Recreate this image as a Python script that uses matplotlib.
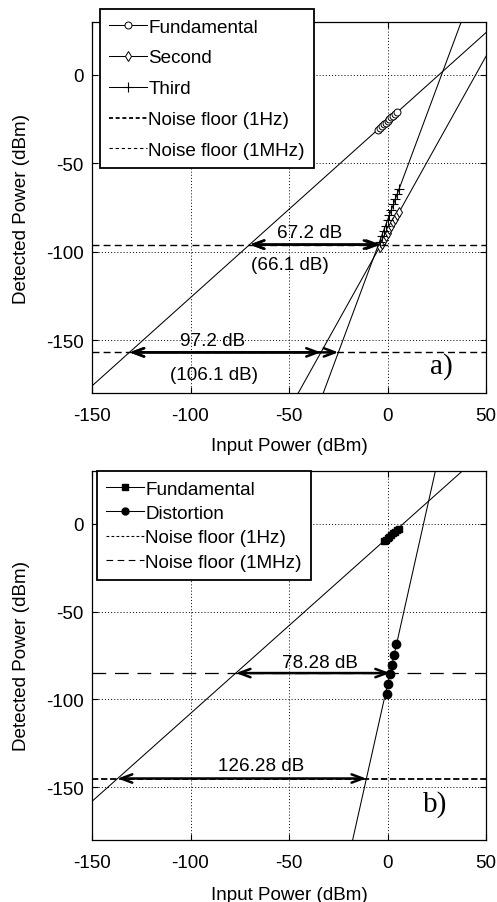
import matplotlib
matplotlib.use("Agg")
import matplotlib.pyplot as plt
from matplotlib.lines import Line2D

plt.rcParams['font.family'] = ['Liberation Sans', 'DejaVu Sans']
plt.rcParams['axes.unicode_minus'] = False
FS = 13.6

# ---------------- data: panel a ----------------
a_fund_line_x = [-150, 50]
a_fund_line_y = [-176, 24]
a_second_line_x = [-45.3, 50]
a_second_line_y = [-180, 10.6]
a_third_line_x = [-32.6, 37.4]
a_third_line_y = [-180, 30]

a_fund_pts_x = [-5, -4, -3, -2, -1, 0, 1, 2, 3, 4, 5]
a_fund_pts_y = [-31, -30, -29, -28, -27, -26, -25, -24, -23, -22, -21]
a_second_pts_x = [-4, -3, -2, -1, 0, 1, 2, 3, 4, 5, 6]
a_second_pts_y = [-97.4, -95.4, -93.4, -91.4, -89.4, -87.4, -85.4, -83.4, -81.4, -79.4, -77.4]
a_third_pts_x = [-4, -3, -2, -1, 0, 1, 2, 3, 4, 5, 6]
a_third_pts_y = [-94.3, -91.3, -88.3, -85.3, -82.3, -79.3, -76.3, -73.3, -70.3, -67.3, -64.3]

a_noise_1hz = -157
a_noise_1mhz = -96

a_arrows = [  # (x_start, x_end, level)
    (-70, -3.4, -96), (-70, -4.6, -96),
    (-131, -33.8, -157), (-131, -24.9, -157),
]
a_texts = [("67.2 dB", -39.6, -89), ("(66.1 dB)", -49.7, -107),
           ("97.2 dB", -89, -150), ("(106.1 dB)", -88, -169.5)]

# ---------------- data: panel b ----------------
b_fund_line_x = [-150, 38]
b_fund_line_y = [-158, 30]
b_dist_line_x = [-17.7, 24.3]
b_dist_line_y = [-180, 30]

b_fund_pts_x = [-2, -1, 0, 1, 2, 3, 4, 5, 6]
b_fund_pts_y = [-9.8, -9.0, -8.2, -7.3, -6.4, -5.5, -4.6, -3.8, -3.0]
b_dist_pts_x = [-0.5, 0.3, 1.5, 2.3, 3.3, 4.5]
b_dist_pts_y = [-97.0, -91.4, -85.8, -80.2, -74.7, -68.5]

b_noise_1hz = -145
b_noise_1mhz = -85

b_arrows = [(-77, 1.3, -85), (-137, -10.8, -145)]
b_texts = [("78.28 dB", -34.1, -78.8), ("126.28 dB", -64.4, -137.8)]

xticks = [-150, -100, -50, 0, 50]
yticks = [-150, -100, -50, 0]

fig = plt.figure(figsize=(4.97, 9.03), dpi=100)
W, H = 497, 903
axA = fig.add_axes([92 / W, 1 - 394 / H, 394 / W, 371 / H])
axB = fig.add_axes([92 / W, 1 - 841 / H, 394 / W, 369 / H])

thin = 0.75

def style(ax):
    ax.set_xlim(-150, 50)
    ax.set_ylim(-180, 30)
    ax.set_xticks(xticks)
    ax.set_yticks(yticks)
    ax.tick_params(direction='in', top=True, right=True, length=4, width=0.8,
                   labelsize=FS)
    ax.tick_params(axis='x', pad=10)
    ax.tick_params(axis='y', pad=6)
    ax.grid(True, linestyle=(0, (1, 2.2)), color='black', linewidth=0.7)
    ax.set_axisbelow(True)
    for s in ax.spines.values():
        s.set_linewidth(0.9)
    ax.set_xlabel("Input Power (dBm)", fontsize=FS)
    ax.set_ylabel("Detected Power (dBm)", fontsize=FS)
    ax.yaxis.set_label_coords(-0.158, 0.5)

def arrow(ax, x0, x1, y):
    ax.annotate('', xy=(x1, y), xytext=(x0, y),
                arrowprops=dict(arrowstyle='<->,head_length=0.8,head_width=0.3',
                                lw=1.8, color='black', shrinkA=0, shrinkB=0))

# ---- panel a ----
style(axA)
axA.xaxis.set_label_coords(0.5, -0.118)
axA.plot(a_fund_line_x, a_fund_line_y, color='black', lw=thin)
axA.plot(a_second_line_x, a_second_line_y, color='black', lw=thin)
axA.plot(a_third_line_x, a_third_line_y, color='black', lw=thin)
axA.plot(a_fund_pts_x, a_fund_pts_y, 'o', mfc='white', mec='black', ms=5, mew=0.7)
axA.plot(a_second_pts_x, a_second_pts_y, 'd', mfc='white', mec='black', ms=5, mew=0.7)
axA.plot(a_third_pts_x, a_third_pts_y, '+', color='black', ms=7, mew=0.8)
axA.axhline(a_noise_1hz, color='black', lw=1.0, linestyle=(0, (5, 3)))
axA.axhline(a_noise_1mhz, color='black', lw=1.0, linestyle=(0, (5, 3)))
for x0, x1, y in a_arrows:
    arrow(axA, x0, x1, y)
for t, x, y in a_texts:
    axA.text(x, y, t, ha='center', va='center', fontsize=FS)
axA.text(27.4, -164.2, "a)", ha='center', va='center', fontsize=21,
         family=['Liberation Serif', 'DejaVu Serif'])

hA = [Line2D([], [], color='black', lw=thin, marker='o', mfc='white', mec='black', ms=5, mew=0.7),
      Line2D([], [], color='black', lw=thin, marker='d', mfc='white', mec='black', ms=5, mew=0.7),
      Line2D([], [], color='black', lw=thin, marker='+', ms=7, mew=0.8),
      Line2D([], [], color='black', lw=1.3, linestyle=(0, (2.2, 1.5))),
      Line2D([], [], color='black', lw=0.8, linestyle=(0, (3, 2.5)))]
legA = fig.legend(hA, ["Fundamental", "Second", "Third", "Noise floor (1Hz)", "Noise floor (1MHz)"],
                  loc='upper left', bbox_to_anchor=(100 / W, 1 - 10 / H), borderaxespad=0,
                  fontsize=FS, fancybox=False, edgecolor='black', framealpha=1,
                  handlelength=2.0, handletextpad=0.05, labelspacing=0.72,
                  borderpad=0.5)
legA.get_frame().set_linewidth(1.3)

# ---- panel b ----
style(axB)
axB.xaxis.set_label_coords(0.5, -0.126)
axB.plot(b_fund_line_x, b_fund_line_y, color='black', lw=thin)
axB.plot(b_dist_line_x, b_dist_line_y, color='black', lw=thin)
axB.plot(b_fund_pts_x, b_fund_pts_y, 's', color='black', ms=5)
axB.plot(b_dist_pts_x, b_dist_pts_y, 'o', color='black', ms=6)
axB.axhline(b_noise_1hz, color='black', lw=1.3, linestyle=(0, (3.5, 1.5)))
axB.axhline(b_noise_1mhz, color='black', lw=0.9, linestyle=(0, (11, 7)))
for x0, x1, y in b_arrows:
    arrow(axB, x0, x1, y)
for t, x, y in b_texts:
    axB.text(x, y, t, ha='center', va='center', fontsize=FS)
axB.text(24, -159.4, "b)", ha='center', va='center', fontsize=21,
         family=['Liberation Serif', 'DejaVu Serif'])

hB = [Line2D([], [], color='black', lw=thin, marker='s', ms=5),
      Line2D([], [], color='black', lw=thin, marker='o', ms=5),
      Line2D([], [], color='black', lw=0.8, linestyle=(0, (2.5, 2))),
      Line2D([], [], color='black', lw=0.8, linestyle=(0, (6, 4)))]
legB = fig.legend(hB, ["Fundamental", "Distortion", "Noise floor (1Hz)", "Noise floor (1MHz)"],
                  loc='upper left', bbox_to_anchor=(97 / W, 1 - 472 / H), borderaxespad=0,
                  fontsize=FS, fancybox=False, edgecolor='black', framealpha=1,
                  handlelength=2.0, handletextpad=0.05, labelspacing=0.38,
                  borderpad=0.5)
legB.get_frame().set_linewidth(1.3)

fig.savefig("out.png", dpi=100)
